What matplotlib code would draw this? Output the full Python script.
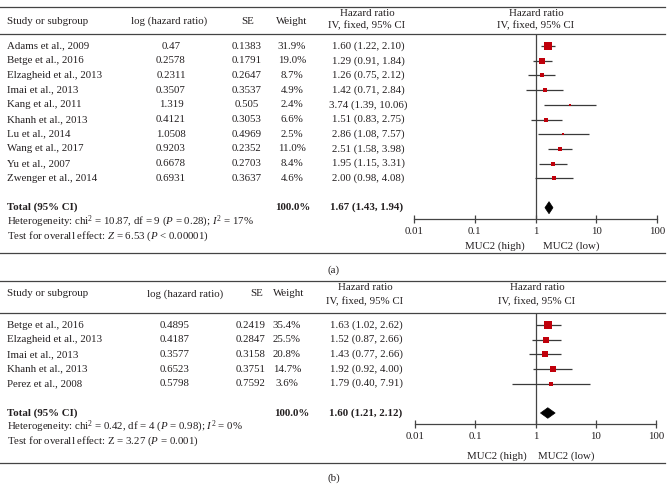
import matplotlib
matplotlib.use("Agg")
import matplotlib.pyplot as plt
from matplotlib.transforms import blended_transform_factory
from matplotlib.patches import Polygon
import numpy as np

plt.rcParams['font.family'] = ['Liberation Serif', 'DejaVu Serif']
plt.rcParams['mathtext.fontset'] = 'custom'
plt.rcParams['mathtext.rm'] = 'Liberation Serif'
plt.rcParams['mathtext.it'] = 'Liberation Serif:italic'
plt.rcParams['mathtext.bf'] = 'Liberation Serif:bold'

# ---------------- data: panel (a) ----------------
studies_a = ["Adams et al., 2009", "Betge et al., 2016", "Elzagheid et al., 2013",
             "Imai et al., 2013", "Kang et al., 2011", "Khanh et al., 2013",
             "Lu et al., 2014", "Wang et al., 2017", "Yu et al., 2007",
             "Zwenger et al., 2014"]
loghr_a = ["0.47", "0.2578", "0.2311", "0.3507", "1.319", "0.4121", "1.0508",
           "0.9203", "0.6678", "0.6931"]
se_a = ["0.1383", "0.1791", "0.2647", "0.3537", "0.505", "0.3053", "0.4969",
        "0.2352", "0.2703", "0.3637"]
weight_a = [31.9, 19.0, 8.7, 4.9, 2.4, 6.6, 2.5, 11.0, 8.4, 4.6]
hr_a = [1.60, 1.29, 1.26, 1.42, 3.74, 1.51, 2.86, 2.51, 1.95, 2.00]
lo_a = [1.22, 0.91, 0.75, 0.71, 1.39, 0.83, 1.08, 1.58, 1.15, 0.98]
hi_a = [2.10, 1.84, 2.12, 2.84, 10.06, 2.75, 7.57, 3.98, 3.31, 4.08]
total_a = [1.67, 1.43, 1.94]
het_a = "Heterogeneity: chi$^2$ = 10.87, df = 9 ($P$ = 0.28); $I^2$ = 17%"
test_a = "Test for overall effect: $Z$ = 6.53 ($P$ < 0.00001)"

# ---------------- data: panel (b) ----------------
studies_b = ["Betge et al., 2016", "Elzagheid et al., 2013", "Imai et al., 2013",
             "Khanh et al., 2013", "Perez et al., 2008"]
loghr_b = ["0.4895", "0.4187", "0.3577", "0.6523", "0.5798"]
se_b = ["0.2419", "0.2847", "0.3158", "0.3751", "0.7592"]
weight_b = [35.4, 25.5, 20.8, 14.7, 3.6]
hr_b = [1.63, 1.52, 1.43, 1.92, 1.79]
lo_b = [1.02, 0.87, 0.77, 0.92, 0.40]
hi_b = [2.62, 2.66, 2.66, 4.00, 7.91]
total_b = [1.60, 1.21, 2.12]
het_b = "Heterogeneity: chi$^2$ = 0.42, df = 4 ($P$ = 0.98); $I^2$ = 0%"
test_b = "Test for overall effect: Z = 3.27 ($P$ = 0.001)"

xticks = [0.01, 0.1, 1, 10, 100]
xticklabels = ["0.01", "0.1", "1", "10", "100"]

W, H = 672, 500
FS = 7.8
TXT = '#231f20'
SQ = '#c0000b'
CI = '#3a3a3a'
RULE = '#444444'

fig = plt.figure(figsize=(W / 100, H / 100), dpi=100)
bg = fig.add_axes([0, 0, 1, 1])
bg.set_xlim(0, W)
bg.set_ylim(H, 0)
bg.axis('off')


def add_forest(x0, x1, ytop, yaxis, ymax):
    ax = fig.add_axes([x0 / W, 1 - yaxis / H, (x1 - x0) / W, (yaxis - ytop) / H])
    ax.set_xscale('log')
    ax.set_xlim(0.01, 100)
    ax.set_ylim(ymax, -0.82)
    ax.patch.set_alpha(0)
    for s in ['top', 'right', 'left']:
        ax.spines[s].set_visible(False)
    ax.spines['bottom'].set_color(RULE)
    ax.spines['bottom'].set_linewidth(0.9)
    ax.set_yticks([])
    ax.set_xticks(xticks)
    ax.set_xticklabels(xticklabels)
    ax.minorticks_off()
    ax.tick_params(axis='x', direction='inout', length=6, width=0.9, color=RULE,
                   labelsize=FS, labelcolor=TXT, pad=2.5)
    ax.axvline(1, color=RULE, lw=0.9, zorder=1)
    return ax


def draw_panel(ax, studies, loghr, se, weight, hr, lo, hi, total,
               het, test, cols, hdr, y_hdr1, y_hdr2, y_hdrmid, rules,
               label, label_y, muc_y, muc_hi_x, muc_lo_x, dh):
    tr = blended_transform_factory(bg.transData, ax.transData)
    n = len(studies)
    rows = np.arange(n)
    # CI lines and squares
    for i in range(n):
        ax.plot([lo[i], hi[i]], [rows[i], rows[i]], color=CI, lw=0.9,
                solid_capstyle='butt', zorder=2, clip_on=False)
        side = (1.0 + 1.07 * np.sqrt(weight[i])) * 0.72
        ax.plot(hr[i], rows[i], marker='s', ms=side, color=SQ, mec=SQ, mew=0,
                zorder=3, clip_on=False)
    ty = n + 1
    est, tlo, thi = total
    ax.add_patch(Polygon([[tlo, ty], [est, ty - dh], [thi, ty], [est, ty + dh]],
                         closed=True, fc='black', ec='black', lw=0.5, zorder=3))
    # table text
    for i in range(n):
        bg.text(7, rows[i], studies[i], transform=tr, ha='left', va='center',
                fontsize=FS, color=TXT)
        bg.text(cols['lh'], rows[i], loghr[i], transform=tr, ha='center',
                va='center', fontsize=FS, color=TXT)
        bg.text(cols['se'], rows[i], se[i], transform=tr, ha='center',
                va='center', fontsize=FS, color=TXT)
        bg.text(cols['w'], rows[i], f"{weight[i]:.1f}%", transform=tr,
                ha='center', va='center', fontsize=FS, color=TXT)
        bg.text(cols['hr'], rows[i], f"{hr[i]:.2f} ({lo[i]:.2f}, {hi[i]:.2f})",
                transform=tr, ha='center', va='center', fontsize=FS, color=TXT)
    bg.text(7, ty, "Total (95% CI)", transform=tr, ha='left', va='center',
            fontsize=FS, color=TXT, fontweight='bold')
    bg.text(cols['wt'], ty, f"{sum(weight):.1f}%", transform=tr, ha='center',
            va='center', fontsize=FS, color=TXT, fontweight='bold')
    bg.text(cols['hrt'], ty, f"{est:.2f} ({tlo:.2f}, {thi:.2f})", transform=tr,
            ha='center', va='center', fontsize=FS, color=TXT, fontweight='bold')
    bg.text(7, ty + 0.97, het, transform=tr, ha='left', va='center',
            fontsize=FS, color=TXT)
    bg.text(7, ty + 1.94, test, transform=tr, ha='left', va='center',
            fontsize=FS, color=TXT)
    # headers
    bg.text(7, y_hdrmid, "Study or subgroup", ha='left', va='center',
            fontsize=FS, color=TXT)
    bg.text(hdr['lh'], y_hdrmid, "log (hazard ratio)", ha='center', va='center',
            fontsize=FS, color=TXT)
    bg.text(hdr['se'], y_hdrmid, "SE", ha='center', va='center', fontsize=FS,
            color=TXT)
    bg.text(hdr['w'], y_hdrmid, "Weight", ha='center', va='center',
            fontsize=FS, color=TXT)
    for xc in (hdr['hr'], hdr['f']):
        bg.text(xc, y_hdr1, "Hazard ratio", ha='center', va='center',
                fontsize=FS, color=TXT)
        bg.text(xc, y_hdr2, "IV, fixed, 95% CI", ha='center', va='center',
                fontsize=FS, color=TXT)
    for y in rules:
        bg.plot([0, 665], [y, y], color=RULE, lw=0.9)
    bg.text(muc_hi_x, muc_y, "MUC2 (high)", ha='right', va='center',
            fontsize=FS, color=TXT)
    bg.text(muc_lo_x, muc_y, "MUC2 (low)", ha='left', va='center',
            fontsize=FS, color=TXT)
    bg.text(334, label_y, label, ha='center', va='center', fontsize=FS,
            color=TXT)


ax_a = add_forest(414, 657, 34, 219, 11.77)
draw_panel(ax_a, studies_a, loghr_a, se_a, weight_a, hr_a, lo_a, hi_a, total_a,
           het_a, test_a,
           cols=dict(lh=171, se=247, w=292, hr=368, wt=293, hrt=367),
           hdr=dict(lh=169, se=248, w=292, hr=367, f=536),
           y_hdr1=13.5, y_hdr2=26, y_hdrmid=21, rules=[7, 34, 253],
           label="(a)", label_y=270, muc_y=246, muc_hi_x=525, muc_lo_x=543,
           dh=0.41)

ax_b = add_forest(415, 656, 313, 424, 6.75)
draw_panel(ax_b, studies_b, loghr_b, se_b, weight_b, hr_b, lo_b, hi_b, total_b,
           het_b, test_b,
           cols=dict(lh=175, se=251, w=287, hr=366, wt=292, hrt=366),
           hdr=dict(lh=185, se=257, w=289, hr=365, f=537),
           y_hdr1=288, y_hdr2=302, y_hdrmid=294, rules=[281, 313, 463],
           label="(b)", label_y=478, muc_y=456, muc_hi_x=527, muc_lo_x=538,
           dh=0.36)

fig.savefig("out.png", dpi=100)
